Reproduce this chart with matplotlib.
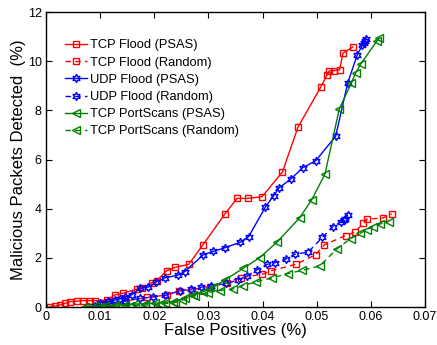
import matplotlib
matplotlib.use("Agg")
from matplotlib import pyplot as plt

# TCP Flood (PSAS)
tcp_psas_x = [0.00074, 0.00166, 0.00258, 0.00351, 0.00443, 0.00572, 0.00683, 0.00812, 0.00904,
              0.01125, 0.01273, 0.01421, 0.01679, 0.01771, 0.01956, 0.02048, 0.02232, 0.0238,
              0.02638, 0.02897, 0.03303, 0.0353, 0.03733, 0.03991, 0.04367, 0.04655, 0.05074,
              0.05185, 0.05234, 0.05327, 0.05424, 0.05485, 0.0567]
tcp_psas_y = [0.01, 0.04, 0.08, 0.15, 0.22, 0.24, 0.26, 0.26, 0.26,
              0.28, 0.49, 0.56, 0.73, 0.76, 0.99, 1.07, 1.48, 1.61,
              1.74, 2.52, 3.78, 4.42, 4.42, 4.49, 5.49, 7.32, 8.94,
              9.42, 9.61, 9.62, 9.65, 10.33, 10.58]

# TCP Flood (Random)
tcp_rand_x = [0.01181, 0.01458, 0.01863, 0.02232, 0.02454, 0.02694, 0.03026, 0.0334, 0.03598,
              0.03985, 0.04164, 0.04618, 0.04982, 0.05142, 0.05535, 0.05701, 0.05861, 0.05923,
              0.06218, 0.06389]
tcp_rand_y = [0.12, 0.24, 0.39, 0.49, 0.65, 0.71, 0.83, 0.99, 1.20,
              1.33, 1.48, 1.74, 2.13, 2.53, 2.91, 3.04, 3.40, 3.58,
              3.62, 3.79]

# UDP Flood (PSAS)
udp_psas_x = [0.00996, 0.01144, 0.01273, 0.01365, 0.01458, 0.01581, 0.01734, 0.01887, 0.02042,
              0.02196, 0.02441, 0.02565, 0.02902, 0.03087, 0.03315, 0.03592, 0.03745, 0.04054,
              0.04207, 0.04304, 0.0452, 0.04742, 0.04982, 0.05351, 0.05572, 0.05751, 0.05843,
              0.05873, 0.05886, 0.0591]
udp_psas_y = [0.16, 0.24, 0.28, 0.33, 0.41, 0.49, 0.76, 0.81, 1.03,
              1.19, 1.30, 1.44, 2.12, 2.26, 2.42, 2.64, 2.87, 4.07,
              4.53, 4.85, 5.20, 5.67, 5.95, 6.95, 9.11, 10.27, 10.65,
              10.74, 10.81, 10.92]

# UDP Flood (Random)
udp_rand_x = [0.00904, 0.01181, 0.01458, 0.01734, 0.01974, 0.02196, 0.02472, 0.02688, 0.02873,
              0.03057, 0.03334, 0.03548, 0.03714, 0.03902, 0.04087, 0.04225, 0.04441, 0.04594,
              0.0484, 0.05105, 0.05295, 0.05448, 0.05498, 0.05529, 0.05577]
udp_rand_y = [0.06, 0.14, 0.26, 0.35, 0.41, 0.47, 0.66, 0.73, 0.81,
              0.86, 0.96, 1.10, 1.26, 1.52, 1.74, 1.80, 1.96, 2.15,
              2.23, 2.83, 3.26, 3.47, 3.54, 3.59, 3.76]

# TCP PortScans (PSAS)
scan_psas_x = [0.0072, 0.00904, 0.01089, 0.01273, 0.01458, 0.01642, 0.01827, 0.02011, 0.02196,
               0.02349, 0.02565, 0.02718, 0.02902, 0.03087, 0.03303, 0.0364, 0.03948, 0.04262,
               0.04686, 0.04908, 0.05153, 0.05419, 0.0564, 0.0572, 0.05817, 0.06113, 0.06144]
scan_psas_y = [0.02, 0.04, 0.06, 0.08, 0.10, 0.12, 0.14, 0.16, 0.18,
               0.22, 0.35, 0.49, 0.62, 0.80, 1.10, 1.57, 2.01, 2.63,
               3.63, 4.36, 5.41, 8.07, 9.11, 9.53, 9.90, 10.82, 10.94]

# TCP PortScans (Random)
scan_rand_x = [0.0072, 0.00996, 0.01273, 0.0155, 0.01827, 0.02103, 0.0238, 0.02509, 0.02749,
               0.02989, 0.0321, 0.0345, 0.03635, 0.03875, 0.0417, 0.04465, 0.04723, 0.05055,
               0.05369, 0.05627, 0.05803, 0.05923, 0.06033, 0.06162, 0.06328]
scan_rand_y = [0.01, 0.02, 0.04, 0.06, 0.08, 0.12, 0.18, 0.28, 0.45,
               0.59, 0.67, 0.73, 0.87, 1.02, 1.18, 1.36, 1.49, 1.67,
               2.36, 2.78, 3.00, 3.15, 3.27, 3.37, 3.48]

x_ticks = [0, 0.01, 0.02, 0.03, 0.04, 0.05, 0.06, 0.07]
x_tick_labels = ["0", "0.01", "0.02", "0.03", "0.04", "0.05", "0.06", "0.07"]
y_ticks = [0, 2, 4, 6, 8, 10, 12]

plt.rcParams['font.family'] = ['Liberation Sans', 'DejaVu Sans']
hexagram = (6, 1, 0)
green = (0, 0.5, 0)

fig = plt.figure(figsize=(4.37, 3.45), dpi=100)
ax = fig.add_axes([0.105, 0.11, 0.8675, 0.855])

common = dict(lw=1.0, fillstyle='none', markeredgewidth=1.0)
ax.plot(tcp_psas_x, tcp_psas_y, '-', color='r', marker='s', ms=5, label='TCP Flood (PSAS)', **common)
ax.plot(tcp_rand_x, tcp_rand_y, '--', color='r', marker='s', ms=5, label='TCP Flood (Random)', dashes=(4, 3), **common)
ax.plot(udp_psas_x, udp_psas_y, '-', color='b', marker=hexagram, ms=6, label='UDP Flood (PSAS)', **common)
ax.plot(udp_rand_x, udp_rand_y, '--', color='b', marker=hexagram, ms=6, label='UDP Flood (Random)', dashes=(4, 3), **common)
ax.plot(scan_psas_x, scan_psas_y, '-', color=green, marker='<', ms=5.5, label='TCP PortScans (PSAS)', **common)
ax.plot(scan_rand_x, scan_rand_y, '--', color=green, marker='<', ms=5.5, label='TCP PortScans (Random)', dashes=(4, 3), **common)

ax.set_xlim(0, 0.07)
ax.set_ylim(0, 12)
ax.set_xticks(x_ticks)
ax.set_xticklabels(x_tick_labels)
ax.set_yticks(y_ticks)
ax.tick_params(direction='in', top=True, right=True, labelsize=9, length=4, pad=3)
for s in ax.spines.values():
    s.set_linewidth(1.0)

ax.set_xlabel('False Positives (%)', fontsize=12, labelpad=0)
ax.set_ylabel('Malicious Packets Detected  (%)', fontsize=12, labelpad=1)

ax.legend(loc='upper left', bbox_to_anchor=(0.037, 0.925), frameon=False, fontsize=9.3,
          handlelength=1.7, handletextpad=0.25, labelspacing=0.4, borderaxespad=0.0)

fig.savefig('out.png', dpi=100)
